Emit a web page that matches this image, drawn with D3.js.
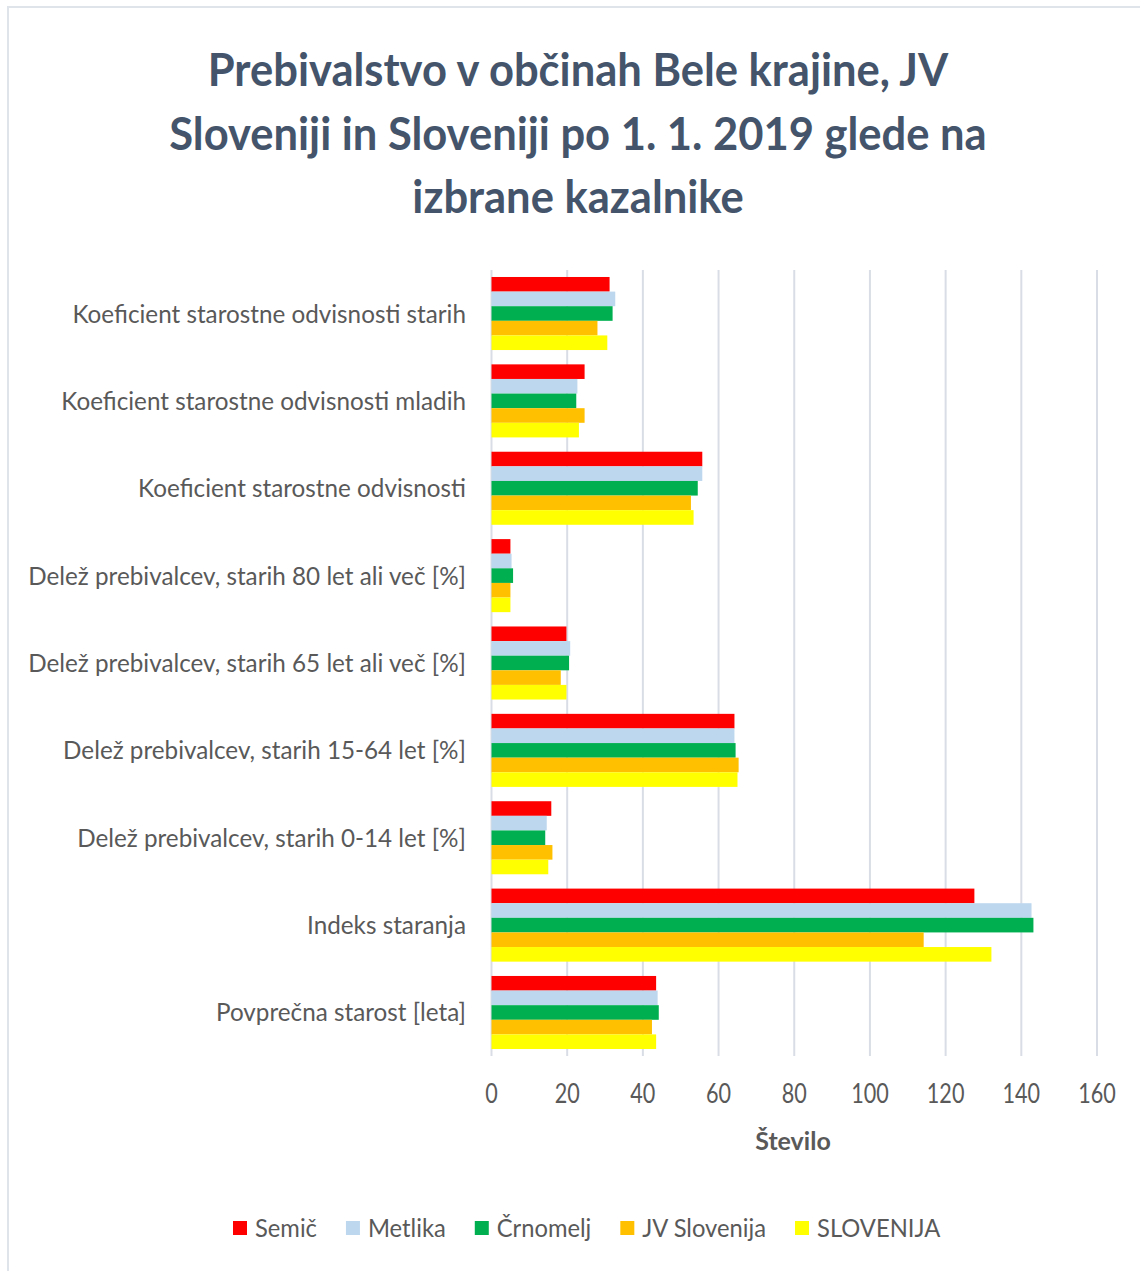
<!DOCTYPE html>
<html><head><meta charset="utf-8">
<script src="https://cdn.jsdelivr.net/npm/d3@7"></script>
<style>body{margin:0;background:#fff}</style>
</head><body>
<svg id="chart" width="1140" height="1271"></svg>
<script>
const titleLines = ["Prebivalstvo v občinah Bele krajine, JV","Sloveniji in Sloveniji po 1. 1. 2019 glede na","izbrane kazalnike"];
const categories = [
  "Koeficient starostne odvisnosti starih",
  "Koeficient starostne odvisnosti mladih",
  "Koeficient starostne odvisnosti",
  "Delež prebivalcev, starih 80 let ali več [%]",
  "Delež prebivalcev, starih 65 let ali več [%]",
  "Delež prebivalcev, starih 15-64 let [%]",
  "Delež prebivalcev, starih 0-14 let [%]",
  "Indeks staranja",
  "Povprečna starost [leta]"
];
const seriesNames = ["Semič","Metlika","Črnomelj","JV Slovenija","SLOVENIJA"];
const seriesColors = ["#FF0000","#BDD7EE","#00B050","#FFC000","#FFFF00"];
const semic     = [31.2, 24.6, 55.7, 5.0, 19.8, 64.2, 15.8, 127.6, 43.5];
const metlika   = [32.7, 22.7, 55.7, 5.3, 20.8, 64.2, 14.6, 142.7, 43.9];
const crnomelj  = [32.0, 22.4, 54.5, 5.7, 20.5, 64.5, 14.2, 143.2, 44.2];
const jvSlo     = [28.0, 24.6, 52.7, 5.0, 18.3, 65.3, 16.1, 114.2, 42.4];
const slovenija = [30.6, 23.1, 53.4, 5.0, 19.8, 65.0, 15.0, 132.1, 43.5];
const xTicks = [0,20,40,60,80,100,120,140,160];
const xTitle = "Število";

const seriesValues = [semic, metlika, crnomelj, jvSlo, slovenija];
const svg = d3.select("#chart");
const FONT = "Lato, 'Open Sans', sans-serif";
const TXT = "#595959";

function condense(sel, k){
  sel.each(function(){
    const w = this.getComputedTextLength();
    d3.select(this).attr("textLength", w*k).attr("lengthAdjust","spacingAndGlyphs");
  });
}

svg.append("rect").attr("x",8).attr("y",7).attr("width",1200).attr("height",1300)
  .attr("fill","#fff").attr("stroke","#dfe3ea").attr("stroke-width",2);

const tb = [86,150,213];
svg.append("g").selectAll("text").data(titleLines).join("text")
  .attr("x",578).attr("y",(d,i)=>tb[i]).attr("text-anchor","middle")
  .attr("font-family",FONT).attr("font-weight","bold").attr("font-size",46)
  .attr("fill","#44546A").text(d=>d).call(condense,0.946);

const x = d3.scaleLinear().domain([0,160]).range([491.5,1097]);
const y = d3.scaleBand().domain(categories).range([270,1056]).paddingInner(0.164).paddingOuter(0.08);
const ys = d3.scaleBand().domain(seriesNames).range([0,y.bandwidth()]);

svg.append("g").selectAll("line").data(xTicks).join("line")
  .attr("x1",d=>x(d)).attr("x2",d=>x(d)).attr("y1",270).attr("y2",1056)
  .attr("stroke","#d9dde5").attr("stroke-width",2);

const g = svg.append("g");
seriesNames.forEach((s,si)=>{
  g.append("g").selectAll("rect").data(seriesValues[si]).join("rect")
    .attr("x",x(0)).attr("y",(d,i)=>y(categories[i])+ys(s))
    .attr("width",d=>x(d)-x(0)).attr("height",ys.bandwidth())
    .attr("fill",seriesColors[si]);
});

svg.append("g").selectAll("text").data(categories).join("text")
  .attr("x",466).attr("y",d=>y(d)+y.bandwidth()/2+9)
  .attr("text-anchor","end").attr("font-family",FONT).attr("font-size",25)
  .attr("fill",TXT).text(d=>d).call(condense,0.97);

svg.append("g").selectAll("text").data(xTicks).join("text")
  .attr("x",d=>x(d)).attr("y",1103).attr("text-anchor","middle")
  .attr("font-family",FONT).attr("font-size",27).attr("fill",TXT).text(d=>d).call(condense,0.8);

svg.append("text").attr("x",793).attr("y",1150).attr("text-anchor","middle")
  .attr("font-family",FONT).attr("font-weight","bold").attr("font-size",25)
  .attr("fill",TXT).text(xTitle).call(condense,1.0);

const lg = svg.append("g");
let lx = 233;
seriesNames.forEach((s,i)=>{
  lg.append("rect").attr("x",lx).attr("y",1221).attr("width",14).attr("height",14).attr("fill",seriesColors[i]);
  const t = lg.append("text").attr("x",lx+22).attr("y",1237).attr("font-family",FONT).attr("font-size",25)
    .attr("fill",TXT).text(s).call(condense,0.95);
  lx += 22 + t.node().textLength.baseVal.value + 29;
});
</script>
</body></html>
